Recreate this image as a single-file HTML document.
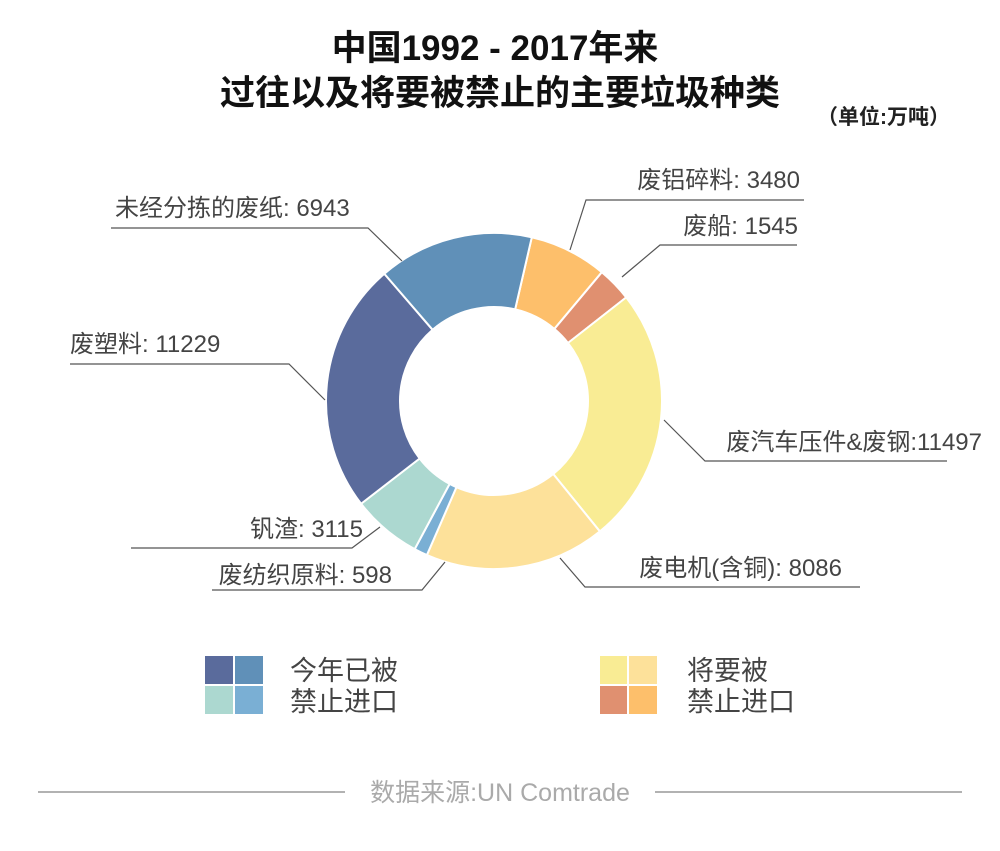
<!DOCTYPE html>
<html><head><meta charset="utf-8">
<style>
body{margin:0;background:#fff;}
svg{display:block;font-family:"Liberation Sans","Noto Sans CJK SC",sans-serif;}
.lbl{font-size:24px;fill:#444;}
</style></head>
<body>
<svg id="chart" width="1000" height="851" viewBox="0 0 1000 851">
<text x="495" y="60" text-anchor="middle" font-size="35" font-weight="bold" fill="#111">中国1992 - 2017年来</text>
<text x="500" y="105" text-anchor="middle" font-size="35" font-weight="bold" fill="#111">过往以及将要被禁止的主要垃圾种类</text>
<text x="950" y="124" text-anchor="end" font-size="21" font-weight="bold" fill="#222">（单位:万吨）</text>
<g id="slices"></g>
<g id="labels"></g>
<g>
<rect x="205" y="656" width="28" height="28" fill="#5a6b9c"/><rect x="235" y="656" width="28" height="28" fill="#6090b8"/>
<rect x="205" y="686" width="28" height="28" fill="#acd8d0"/><rect x="235" y="686" width="28" height="28" fill="#7aafd4"/>
<text x="290" y="680" font-size="27" fill="#444">今年已被</text><text x="290" y="711" font-size="27" fill="#444">禁止进口</text>
</g>
<g>
<rect x="600" y="656" width="27" height="28" fill="#f9ec94"/><rect x="629" y="656" width="28" height="28" fill="#fde19a"/>
<rect x="600" y="686" width="27" height="28" fill="#e09070"/><rect x="629" y="686" width="28" height="28" fill="#fdbf6b"/>
<text x="687" y="680" font-size="27" fill="#444">将要被</text><text x="687" y="711" font-size="27" fill="#444">禁止进口</text>
</g>
<line x1="38" y1="792" x2="345" y2="792" stroke="#999" stroke-width="1.5"/>
<line x1="655" y1="792" x2="962" y2="792" stroke="#999" stroke-width="1.5"/>
<text x="500" y="801" text-anchor="middle" font-size="25" fill="#aaa">数据来源:UN Comtrade</text>
</svg>
<script>
const categories=["废铝碎料","废船","废汽车压件&废钢","废电机(含铜)","废纺织原料","钒渣","废塑料","未经分拣的废纸"];
const values=[3480,1545,11497,8086,598,3115,11229,6943];
const colors=["#fdbf6b","#e09070","#f9ec94","#fde19a","#7aafd4","#acd8d0","#5a6b9c","#6090b8"];
const labelTexts=["废铝碎料: 3480","废船:  1545","废汽车压件&废钢:11497","废电机(含铜): 8086","废纺织原料: 598","钒渣: 3115","废塑料:  11229","未经分拣的废纸: 6943"];
const cx=494,cy=401,R=168,r=94,start=13;
const NS="http://www.w3.org/2000/svg";
const total=values.reduce((a,b)=>a+b,0);
function pt(deg,rad){const a=(deg-90)*Math.PI/180;return [cx+rad*Math.cos(a),cy+rad*Math.sin(a)];}
// label layout: [textX, textY, anchor, elbowX, farX, lineY, edgeX, edgeY]
const layout=[[800,188,"end",586,804,200,570,250],[798,234,"end",660,797,245,622,277],[982,450,"end",705,947,461,664,420],[842,576,"end",585,860,587,560,558],[392,583,"end",422,212,590,445,562],[250,537,"start",352,131,548,380,527],[70,352,"start",289,70,364,325,400],[115,216,"start",368,111,228,402,261]];
const sg=document.getElementById("slices"),lg=document.getElementById("labels");
let acc=start;
values.forEach((v,i)=>{
 const a0=acc,a1=acc+v/total*360;acc=a1;
 const [x0,y0]=pt(a0,R),[x1,y1]=pt(a1,R),[x2,y2]=pt(a1,r),[x3,y3]=pt(a0,r);
 const lg2=(a1-a0)>180?1:0;
 const p=document.createElementNS(NS,"path");
 p.setAttribute("d",`M${x0},${y0}A${R},${R} 0 ${lg2} 1 ${x1},${y1}L${x2},${y2}A${r},${r} 0 ${lg2} 0 ${x3},${y3}Z`);
 p.setAttribute("fill",colors[i]);p.setAttribute("stroke","#fff");p.setAttribute("stroke-width","2");
 
 
 sg.appendChild(p);
 const L=layout[i];
 const pl=document.createElementNS(NS,"polyline");
 pl.setAttribute("points",`${L[6]},${L[7]} ${L[3]},${L[5]} ${L[4]},${L[5]}`);
 pl.setAttribute("fill","none");pl.setAttribute("stroke","#555");pl.setAttribute("stroke-width","1.2");
 
 
 lg.appendChild(pl);
 const t=document.createElementNS(NS,"text");
 t.setAttribute("x",L[0]);t.setAttribute("y",L[1]);t.setAttribute("text-anchor",L[2]);t.setAttribute("class","lbl");
 t.textContent=labelTexts[i];
 
 
 lg.appendChild(t);
});
</script>
</body></html>
